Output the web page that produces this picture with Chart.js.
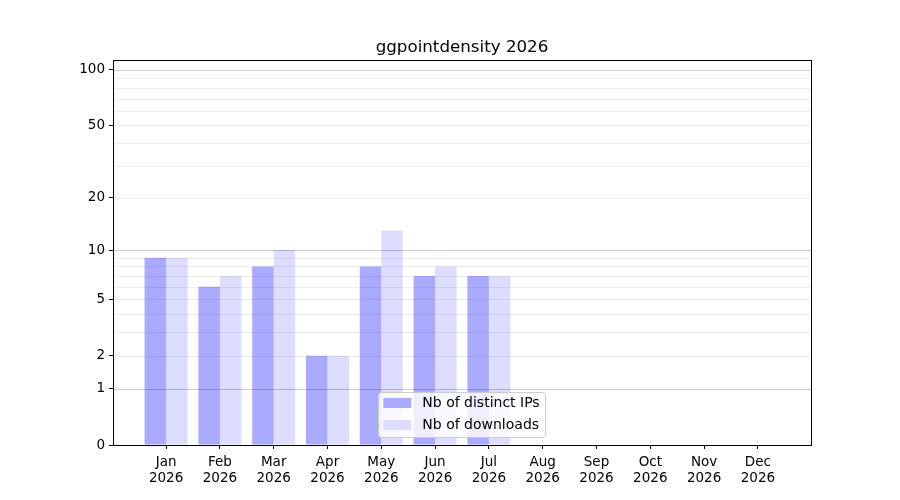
<!DOCTYPE html>
<html>
<head>
<meta charset="utf-8">
<script src="https://cdn.jsdelivr.net/npm/chart.js@4/dist/chart.umd.min.js"></script>
<style>
  html, body { margin: 0; padding: 0; background: #fff; }
</style>
</head>
<body>
<canvas id="chart" width="900" height="500"></canvas>
<script>
// Chart data
const months = ['Jan', 'Feb', 'Mar', 'Apr', 'May', 'Jun', 'Jul', 'Aug', 'Sep', 'Oct', 'Nov', 'Dec'];
const year = '2026';
const distinctIPs = [9, 6, 8, 2, 8, 7, 7];
const downloads = [9, 7, 10, 2, 13, 8, 7];
const yTicks = [0, 1, 2, 5, 10, 20, 50, 100];
const majorGrid = [1, 10, 100];
const minorGrid = [2, 3, 4, 5, 6, 7, 8, 9, 20, 30, 40, 50, 60, 70, 80, 90];

// y axis that places values at log10(1 + v)
class Log1pScale extends Chart.LinearScale {
    static id = 'log1p';

    buildTicks() {
        return yTicks.map(v => ({ value: v }));
    }

    configure() {
        super.configure();
        this._lo = Math.log10(1 + this.min);
        this._hi = Math.log10(1 + this.max);
    }

    getPixelForValue(value) {
        if (value === null || value === undefined) return NaN;
        return this.getPixelForDecimal((Math.log10(1 + value) - this._lo) / (this._hi - this._lo));
    }

    getValueForPixel(pixel) {
        const d = this.getDecimalForPixel(pixel);
        return Math.pow(10, this._lo + d * (this._hi - this._lo)) - 1;
    }
}
Chart.register(Log1pScale);

// Grid on top of the bars, box frame and an inside legend (matplotlib look)
const overlayPlugin = {
    id: 'overlay',
    afterDatasetsDraw(chart) {
        const ctx = chart.ctx;
        const area = chart.chartArea;
        const y = chart.scales.y;
        ctx.save();
        ctx.lineWidth = 1;
        minorGrid.forEach(v => {
            const py = Math.round(y.getPixelForValue(v)) + 0.5;
            ctx.strokeStyle = 'rgba(0,0,0,0.07)';
            ctx.beginPath();
            ctx.moveTo(area.left, py);
            ctx.lineTo(area.right, py);
            ctx.stroke();
        });
        majorGrid.forEach(v => {
            const py = Math.round(y.getPixelForValue(v)) + 0.5;
            ctx.strokeStyle = 'rgba(0,0,0,0.2)';
            ctx.beginPath();
            ctx.moveTo(area.left, py);
            ctx.lineTo(area.right, py);
            ctx.stroke();
        });

        // frame
        ctx.strokeStyle = '#000';
        ctx.lineWidth = 1;
        ctx.strokeRect(Math.round(area.left) + 0.5, Math.round(area.top) + 0.5,
            Math.round(area.right - area.left), Math.round(area.bottom - area.top));

        // legend
        ctx.font = '14px "DejaVu Sans"';
        const labels = chart.data.datasets.map(d => d.label);
        const textW = Math.max(...labels.map(l => ctx.measureText(l).width));
        const boxW = 5 + 28 + 11 + textW + 6;
        const rowH = 22;
        const boxH = 11 + rowH * (labels.length - 1) + 12;
        const bx = (area.left + area.right) / 2 - boxW / 2;
        const by = area.bottom - 8 - boxH;
        ctx.fillStyle = 'rgba(255,255,255,0.8)';
        ctx.strokeStyle = '#cccccc';
        ctx.beginPath();
        ctx.roundRect(Math.round(bx) + 0.5, Math.round(by) + 0.5, Math.round(boxW), Math.round(boxH), 3);
        ctx.fill();
        ctx.stroke();
        ctx.textBaseline = 'middle';
        chart.data.datasets.forEach((d, i) => {
            const cy = by + 11 + rowH * i;
            ctx.fillStyle = d.backgroundColor;
            ctx.fillRect(bx + 5, cy - 5, 28, 10);
            ctx.fillStyle = '#000';
            ctx.fillText(d.label, bx + 5 + 28 + 11, cy);
        });
        ctx.restore();
    }
};

const toPoints = vals => vals.map((v, i) => ({ x: i, y: v }));

new Chart(document.getElementById('chart'), {
    type: 'bar',
    data: {
        datasets: [
            {
                label: 'Nb of distinct IPs',
                data: toPoints(distinctIPs),
                backgroundColor: '#aaaaff',
                borderWidth: 0
            },
            {
                label: 'Nb of downloads',
                data: toPoints(downloads),
                backgroundColor: '#ddddff',
                borderWidth: 0
            }
        ]
    },
    options: {
        responsive: false,
        animation: false,
        devicePixelRatio: 1,
        categoryPercentage: 0.8,
        barPercentage: 1.0,
        layout: { padding: { left: 0, right: 89, top: 0, bottom: 0 } },
        plugins: {
            legend: { display: false },
            tooltip: { enabled: false },
            title: {
                display: true,
                text: 'ggpointdensity 2026',
                fullSize: false,
                color: '#000',
                font: { family: '"DejaVu Sans"', size: 16.7, weight: 'normal', lineHeight: 1.2 },
                padding: { top: 38, bottom: 2 }
            }
        },
        scales: {
            x: {
                type: 'linear',
                min: -0.987,
                max: 11.987,
                offset: false,
                afterBuildTicks: s => { s.ticks = months.map((m, i) => ({ value: i })); },
                afterFit: s => { s.height = 55; },
                ticks: {
                    autoSkip: false,
                    maxRotation: 0,
                    color: '#000',
                    padding: 6,
                    font: { family: '"DejaVu Sans"', size: 13.5, lineHeight: 1.15 },
                    callback: v => [months[v], year]
                },
                grid: { drawOnChartArea: false, offset: false, tickLength: 4, tickColor: '#000' },
                border: { display: false }
            },
            y: {
                type: 'log1p',
                min: 0,
                max: 113,
                afterFit: s => { s.width = 113; },
                ticks: {
                    color: '#000',
                    padding: 4,
                    font: { family: '"DejaVu Sans"', size: 13.5 },
                    callback: v => String(v)
                },
                grid: { drawOnChartArea: false, tickLength: 4, tickColor: '#000' },
                border: { display: false }
            }
        }
    },
    plugins: [overlayPlugin]
});
</script>
</body>
</html>
